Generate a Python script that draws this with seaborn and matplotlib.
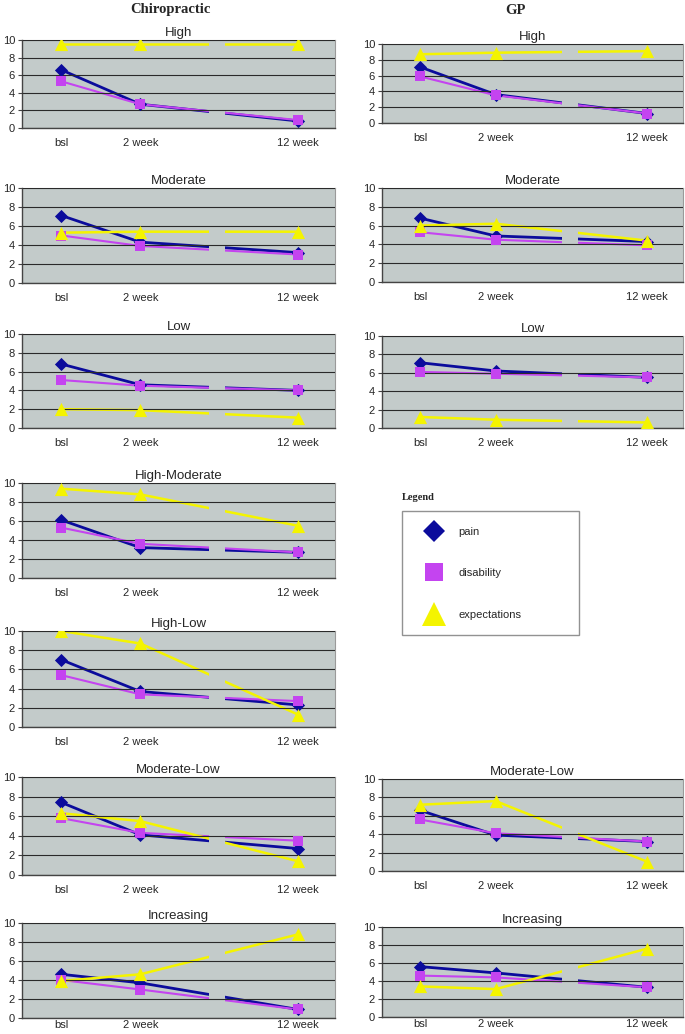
import pandas as pd
import seaborn as sns
import matplotlib.pyplot as plt
from matplotlib.lines import Line2D

sns.set_theme(style="white")
plt.rcParams['font.family'] = ['Liberation Sans', 'DejaVu Sans']

timepoints = ["bsl", "2 week", "12 week"]
measures = ["pain", "disability", "expectations"]

# --- Chiropractic trajectories ---
chiro_groups = ["High", "Moderate", "Low", "High-Moderate", "High-Low", "Moderate-Low", "Increasing"]
chiro_pain = [[6.6, 2.7, 0.8], [7.1, 4.3, 3.2], [6.8, 4.6, 4.0], [6.1, 3.2, 2.7],
              [7.0, 3.7, 2.3], [7.4, 4.1, 2.7], [4.6, 3.7, 0.9]]
chiro_disability = [[5.3, 2.7, 0.9], [5.0, 3.9, 3.0], [5.1, 4.5, 4.0], [5.3, 3.6, 2.7],
                    [5.4, 3.4, 2.7], [5.8, 4.3, 3.5], [4.0, 3.0, 0.9]]
chiro_expectations = [[9.5, 9.5, 9.5], [5.3, 5.4, 5.4], [2.0, 1.9, 1.1], [9.4, 8.8, 5.5],
                      [10.0, 8.7, 1.3], [6.3, 5.5, 1.4], [3.9, 4.6, 8.8]]

# --- GP trajectories ---
gp_groups = ["High", "Moderate", "Low", "Moderate-Low", "Increasing"]
gp_pain = [[7.1, 3.6, 1.2], [6.8, 4.9, 4.3], [7.1, 6.2, 5.5], [6.6, 3.9, 3.2], [5.6, 4.9, 3.3]]
gp_disability = [[5.9, 3.5, 1.2], [5.3, 4.5, 3.9], [6.1, 5.9, 5.5], [5.6, 4.1, 3.2], [4.6, 4.4, 3.3]]
gp_expectations = [[8.7, 8.9, 9.1], [6.0, 6.2, 4.4], [1.2, 0.9, 0.6], [7.2, 7.6, 1.0], [3.4, 3.1, 7.6]]

# layout (pixels in a 685x1034 canvas)
W, H = 685, 1034
x_pos = {"bsl": 0, "2 week": 1, "12 week": 3}
colors = {"pain": "#0B0B9C", "disability": "#C444F0", "expectations": "#F4F400"}
markers = {"pain": "D", "disability": "s", "expectations": "^"}
msize = {"pain": 45, "disability": 60, "expectations": 90}
lwidth = {"pain": 2.0, "disability": 1.5, "expectations": 1.8}
bg = "#C3CBCA"

chiro_cols = (22, 335)
gp_cols = (382, 683)
chiro_rows = [(40, 128), (188, 283), (334, 428), (483, 578), (631, 727), (777, 875), (923, 1018)]
gp_rows = [(44, 123), (188, 282), (336, 428), (779, 871), (927, 1017)]


def rect(cols, rows):
    l, r = cols
    t, b = rows
    return [l / W, 1 - b / H, (r - l) / W, (b - t) / H]


def draw_panel(ax, title, pain, disability, expectations, xpad=7):
    df = pd.DataFrame({
        "time": timepoints * 3,
        "measure": [m for m in measures for _ in timepoints],
        "value": pain + disability + expectations,
    })
    df["x"] = df["time"].map(x_pos)
    ax.set_facecolor(bg)
    for m in measures:
        sub = df[df["measure"] == m]
        sns.lineplot(data=sub, x="x", y="value", color=colors[m], lw=lwidth[m],
                     ax=ax, zorder=2)
    # axis break between 2 week and 12 week
    ax.axvspan(1.87, 2.08, color=bg, lw=0, zorder=2.2)
    for m in measures:
        sub = df[df["measure"] == m]
        sns.scatterplot(data=sub, x="x", y="value", color=colors[m], marker=markers[m],
                        s=msize[m], linewidth=0, ax=ax, zorder=3)
    ax.set_xlim(-0.5, 3.47)
    ax.set_ylim(0, 10)
    ax.set_yticks([0, 2, 4, 6, 8, 10])
    ax.set_xticks([x_pos[t] for t in timepoints])
    ax.set_xticklabels(timepoints)
    ax.set_xlabel("")
    ax.set_ylabel("")
    ax.set_axisbelow(False)
    ax.yaxis.grid(True, color="#2a2a2a", lw=0.8)
    ax.tick_params(axis="y", left=True, length=3, width=0.8, color="#444444",
                   labelsize=8, pad=2)
    ax.tick_params(axis="x", bottom=False, length=0, labelsize=8, pad=xpad)
    for s in ["left", "bottom"]:
        ax.spines[s].set_color("#444444")
        ax.spines[s].set_linewidth(1.0)
    for s in ["top", "right"]:
        ax.spines[s].set_color("#9a9a9a")
        ax.spines[s].set_linewidth(0.8)
    ax.set_title(title, fontsize=9.5, pad=3)


fig = plt.figure(figsize=(W / 100, H / 100), dpi=100)

for i, g in enumerate(chiro_groups):
    ax = fig.add_axes(rect(chiro_cols, chiro_rows[i]))
    draw_panel(ax, g, chiro_pain[i], chiro_disability[i], chiro_expectations[i],
               xpad=1.5 if i == len(chiro_groups) - 1 else 7)

for i, g in enumerate(gp_groups):
    ax = fig.add_axes(rect(gp_cols, gp_rows[i]))
    draw_panel(ax, g, gp_pain[i], gp_disability[i], gp_expectations[i],
               xpad=1.5 if i == len(gp_groups) - 1 else 7)

serif = ['Liberation Serif', 'DejaVu Serif']
fig.text(170 / W, 1 - 10 / H, "Chiropractic", family=serif, fontweight="bold",
         fontsize=10.5, ha="center", va="center")
fig.text(515 / W, 1 - 10 / H, "GP", family=serif, fontweight="bold",
         fontsize=10.5, ha="center", va="center")

# legend
fig.text(402 / W, 1 - 497 / H, "Legend", family=serif, fontweight="bold",
         fontsize=7.5, ha="left", va="center")
handles = [
    Line2D([], [], ls="none", marker="D", ms=11.5, color=colors["pain"], mew=0),
    Line2D([], [], ls="none", marker="s", ms=13.5, color=colors["disability"], mew=0),
    Line2D([], [], ls="none", marker="^", ms=17, color=colors["expectations"], mew=0),
]
leg = fig.legend(handles, measures, loc="upper left",
                 bbox_to_anchor=(402 / W, 1 - 512 / H, 177 / W, 0.001),
                 mode="expand", fontsize=8, frameon=True, fancybox=False,
                 edgecolor="#777777", labelspacing=2.85, borderpad=1.4,
                 handlelength=3.0, handletextpad=0.65, borderaxespad=0)
leg.get_frame().set_linewidth(1.0)

fig.savefig("out.png", dpi=100, facecolor="white")
plt.close(fig)
